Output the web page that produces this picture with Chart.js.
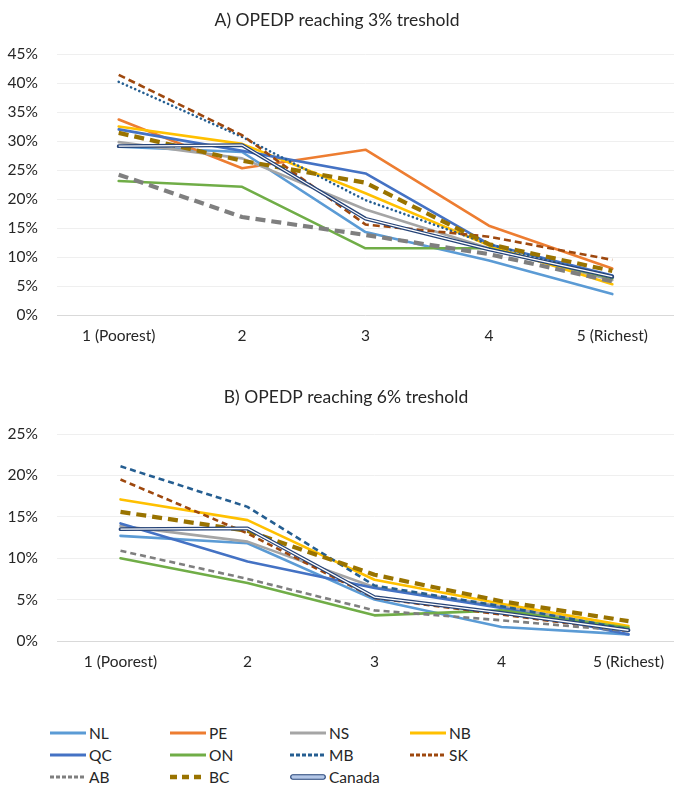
<!DOCTYPE html>
<html>
<head>
<meta charset="utf-8">
<script src="https://cdn.jsdelivr.net/npm/chart.js@4.4.1/dist/chart.umd.min.js"></script>
<style>
  html, body { margin: 0; padding: 0; background: #fff; width: 674px; height: 798px; overflow: hidden; }
  #wrapA { position: absolute; left: 0; top: 0; width: 674px; height: 346px; }
  #wrapB { position: absolute; left: 0; top: 375px; width: 692px; height: 297px; }
  #legend { position: absolute; left: 0; top: 722px; font-family: Lato, sans-serif; font-size: 15.5px; color: #262626; }
  .item { position: absolute; height: 22px; display: flex; align-items: center; white-space: nowrap; }
  .item svg { margin-right: 3px; }
</style>
</head>
<body>
<div id="wrapA"><canvas id="chartA"></canvas></div>
<div id="wrapB"><canvas id="chartB"></canvas></div>
<div id="legend"></div>
<script>
// 카테고리 (소득 5분위)
const quintiles = ['1 (Poorest)', '2', '3', '4', '5 (Richest)'];
const provinces = ['NL', 'PE', 'NS', 'NB', 'QC', 'ON', 'MB', 'SK', 'AB', 'BC', 'Canada'];

// A) 3% 기준 (단위 %)
const t3_NL = [29.0, 28.1, 14.3, 9.4, 3.6];
const t3_PE = [33.7, 25.3, 28.5, 15.4, 8.0];
const t3_NS = [29.8, 27.0, 18.2, 11.5, 6.0];
const t3_NB = [32.5, 29.5, 21.0, 12.0, 5.3];
const t3_QC = [32.0, 28.3, 24.4, 12.2, 6.8];
const t3_ON = [23.1, 22.1, 11.5, 11.5, 6.3];
const t3_MB = [40.2, 30.7, 19.8, 12.2, 6.4];
const t3_SK = [41.4, 31.0, 15.6, 13.5, 9.5];
const t3_AB = [24.2, 16.9, 13.8, 10.5, 5.8];
const t3_BC = [31.4, 26.6, 22.8, 12.2, 7.6];
const t3_Canada = [29.1, 29.3, 16.6, 11.3, 6.6];

// B) 6% 기준 (PE 값 없음)
const t6_NL = [12.7, 11.8, 5.0, 1.7, 0.8];
const t6_PE = [null, null, null, null, null];
const t6_NS = [13.9, 12.0, 6.5, 4.2, 1.5];
const t6_NB = [17.1, 14.6, 7.4, 4.5, 1.8];
const t6_QC = [14.2, 9.6, 6.4, 4.0, 0.8];
const t6_ON = [10.0, 7.0, 3.1, 3.7, 1.6];
const t6_MB = [21.1, 16.2, 6.7, 4.2, 1.4];
const t6_SK = [19.5, 13.0, 5.2, 3.2, 1.2];
const t6_AB = [10.9, 7.5, 3.7, 2.5, 1.2];
const t6_BC = [15.6, 13.3, 8.0, 4.8, 2.4];
const t6_Canada = [13.5, 13.6, 5.3, 3.4, 1.3];

const ticksA = [0, 5, 10, 15, 20, 25, 30, 35, 40, 45];
const ticksB = [0, 5, 10, 15, 20, 25];

const dataA = [t3_NL, t3_PE, t3_NS, t3_NB, t3_QC, t3_ON, t3_MB, t3_SK, t3_AB, t3_BC, t3_Canada];
const dataB = [t6_NL, t6_PE, t6_NS, t6_NB, t6_QC, t6_ON, t6_MB, t6_SK, t6_AB, t6_BC, t6_Canada];

// 시리즈 스타일 (엑셀 기본 팔레트)
const colors = {
  NL: '#5b9bd5', PE: '#ed7d31', NS: '#a5a5a5', NB: '#ffc000', QC: '#4472c4', ON: '#70ad47',
  MB: '#255e91', SK: '#9e480e', AB: '#7f7f7f', BC: '#997300', Canada: '#264478'
};
const stylesA = {
  MB: { dash: [0.1, 4.4], width: 2.6, cap: 'round' },
  SK: { dash: [7, 4], width: 2.6 },
  AB: { dash: [10, 6], width: 4.2 },
  BC: { dash: [10, 6], width: 4.2 }
};
const stylesB = {
  MB: { dash: [6, 4], width: 2.6 },
  SK: { dash: [6, 4], width: 2.6 },
  AB: { dash: [6, 4], width: 2.6 },
  BC: { dash: [10, 6], width: 4.2 }
};

Chart.defaults.font.family = 'Lato, sans-serif';
Chart.defaults.color = '#404040';

function buildDatasets(seriesData, styles) {
  const n = provinces.length;
  const sets = provinces.map((p, i) => {
    const st = styles[p] || {};
    return {
      label: p,
      data: seriesData[i],
      borderColor: colors[p],
      backgroundColor: colors[p],
      borderWidth: p === 'Canada' ? 3.8 : (st.width || 2.6),
      borderDash: st.dash || [],
      borderCapStyle: st.cap || (st.dash ? 'butt' : 'round'),
      borderJoinStyle: 'round',
      pointRadius: 0,
      tension: 0,
      spanGaps: false,
      order: n - i + 1
    };
  });
  // Canada 이중선: 흰색 안쪽 선
  sets.push({
    label: 'Canada (inner)',
    data: seriesData[n - 1],
    borderColor: '#ffffff',
    borderWidth: 1.3,
    borderCapStyle: 'butt',
    pointRadius: 0,
    tension: 0,
    order: 0
  });
  return sets;
}

function makeChart(canvasId, title, seriesData, styles, maxY, tickVals, titlePad) {
  return new Chart(document.getElementById(canvasId), {
    type: 'line',
    data: { labels: quintiles, datasets: buildDatasets(seriesData, styles) },
    options: {
      responsive: true,
      maintainAspectRatio: false,
      animation: false,
      devicePixelRatio: 1,
      layout: { padding: { top: 0, right: 0, bottom: 0, left: 0 } },
      plugins: {
        legend: { display: false },
        tooltip: { enabled: false },
        title: {
          display: true,
          text: title,
          color: '#262626',
          font: { size: 17.5, weight: 'normal', lineHeight: 1.2 },
          padding: titlePad
        }
      },
      scales: {
        x: {
          offset: true,
          grid: { display: false, drawTicks: false, offset: true },
          border: { display: false },
          ticks: { padding: 12, font: { size: 15.5 }, color: '#262626', maxRotation: 0, autoSkip: false },
          afterFit: (s) => { s.height = 31; }
        },
        y: {
          min: 0,
          max: maxY,
          afterBuildTicks: (s) => { s.ticks = tickVals.map(v => ({ value: v })); },
          grid: {
            drawTicks: false,
            color: (ctx) => ctx.tick && ctx.tick.value === 0 ? '#d9d9d9' : '#efefef',
            lineWidth: 1
          },
          border: { display: false },
          ticks: { padding: 19, font: { size: 15.5 }, color: '#262626', callback: (v) => v + '%' },
          afterFit: (s) => { s.width = 57; }
        }
      }
    }
  });
}

makeChart('chartA', 'A) OPEDP reaching 3% treshold', dataA, stylesA, 45, ticksA, { top: 10, bottom: 23 });
makeChart('chartB', 'B) OPEDP reaching 6% treshold', dataB, stylesB, 25, ticksB, { top: 12, bottom: 26 });

// 범례 (3행 4열)
const legendEl = document.getElementById('legend');
const legendStyles = {
  MB: '4,2', SK: '4,2', AB: '4,2', BC: '7,5'
};
provinces.forEach((p, i) => {
  const col = i % 4;
  const row = Math.floor(i / 4);
  const item = document.createElement('div');
  item.className = 'item';
  item.style.left = (50 + col * 120) + 'px';
  item.style.top = (row * 22) + 'px';
  let svg;
  if (p === 'Canada') {
    svg = `<svg width="36" height="8"><rect x="0.75" y="1.75" width="34.5" height="4.5" rx="2" fill="#b4c7e7" stroke="${colors[p]}" stroke-width="1.2"/></svg>`;
  } else {
    const w = p === 'BC' ? 4.5 : 3;
    const dash = legendStyles[p] ? `stroke-dasharray="${legendStyles[p]}"` : '';
    svg = `<svg width="36" height="8"><line x1="0" y1="4" x2="36" y2="4" stroke="${colors[p]}" stroke-width="${w}" ${dash} stroke-linecap="${legendStyles[p] ? 'butt' : 'round'}"/></svg>`;
  }
  item.innerHTML = svg + `<span>${p}</span>`;
  legendEl.appendChild(item);
});
</script>
</body>
</html>
